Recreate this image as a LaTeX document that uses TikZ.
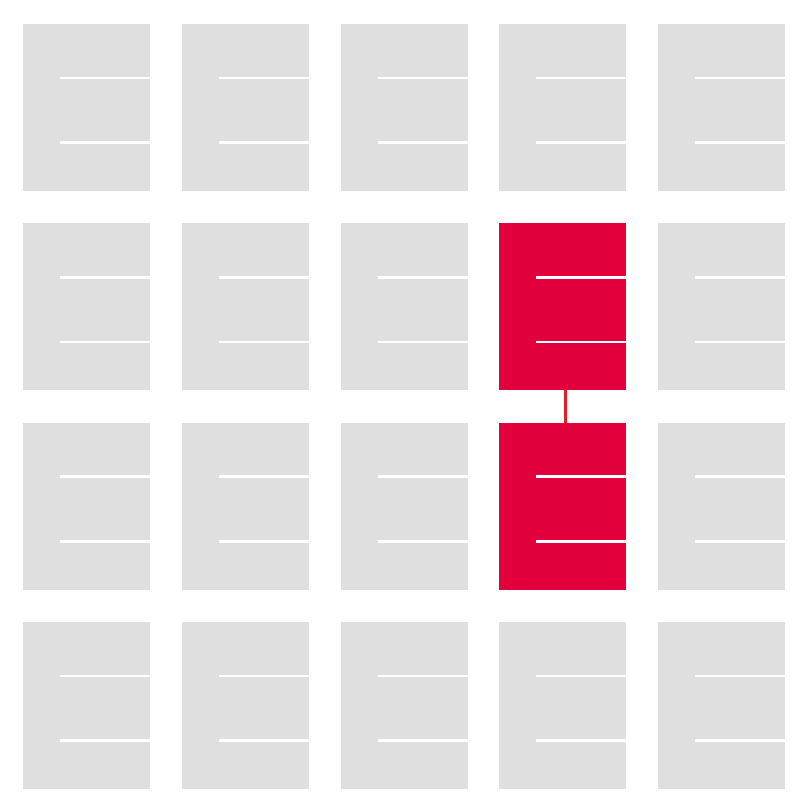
\documentclass[tikz,border=0pt]{standalone}
\usetikzlibrary{positioning}
\definecolor{cellgray}{HTML}{DFDFDF}
\definecolor{cellred}{HTML}{E1003C}
\definecolor{linkred}{HTML}{E2202A}
\begin{document}
\begin{tikzpicture}[
    x=0.03cm, y=-0.03cm,
    cell/.style={fill=cellgray, draw=none, minimum width=3.81cm, minimum height=5.01cm,
      anchor=north west, inner sep=0pt, outer sep=0pt},
    hot/.style={cell, fill=cellred},
    slit/.style={white, line width=0.075cm},
    link/.style={linkred, line width=0.09cm}
  ]
    \useasboundingbox[fill=white] (0,0) rectangle (800,800);

    % grid of cells, two slits each
    \foreach \c in {0,...,4} {
      \foreach \r in {0,...,3} {
        \pgfmathsetmacro{\cx}{23+158.75*\c}
        \pgfmathsetmacro{\cy}{24+199.3*\r}
        \ifnum\c=3 \ifnum\r>0 \ifnum\r<3
          \node[hot] (cell-\c-\r) at (\cx,\cy) {};
        \else
          \node[cell] (cell-\c-\r) at (\cx,\cy) {};
        \fi \else
          \node[cell] (cell-\c-\r) at (\cx,\cy) {};
        \fi \else
          \node[cell] (cell-\c-\r) at (\cx,\cy) {};
        \fi
        \draw[slit] ([xshift=1.11cm, yshift=-1.62cm]cell-\c-\r.north west) -- ([yshift=-1.62cm]cell-\c-\r.north east);
        \draw[slit] ([xshift=1.11cm, yshift=-3.56cm]cell-\c-\r.north west) -- ([yshift=-3.56cm]cell-\c-\r.north east);
      }
    }

    % joint between the two red cells
    \draw[link] ([xshift=0.075cm]cell-3-1.south) -- ([xshift=0.075cm]cell-3-2.north);
\end{tikzpicture}
\end{document}
